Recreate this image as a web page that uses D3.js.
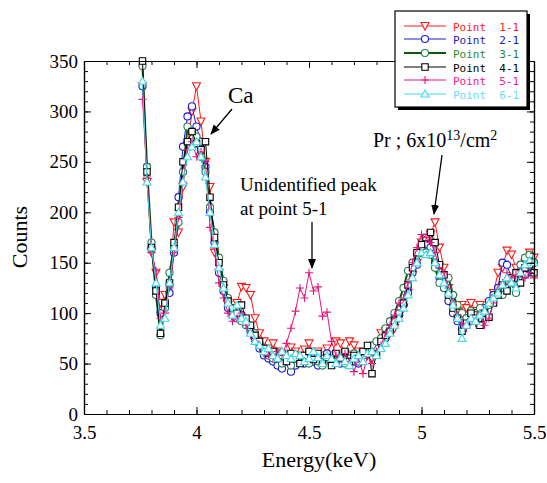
<!DOCTYPE html>
<html><head><meta charset="utf-8">
<script src="https://cdn.jsdelivr.net/npm/d3@7"></script>
<style>
html,body{margin:0;padding:0;background:#fff;}
svg{display:block;}
</style></head>
<body>
<svg id="chart" width="547" height="483"></svg>
<script>
const energies = [3.76,3.78,3.80,3.82,3.84,3.86,3.88,3.90,3.92,3.94,3.96,3.98,4.00,4.02,4.04,4.06,4.08,4.10,4.12,4.14,4.16,4.18,4.20,4.22,4.24,4.26,4.28,4.30,4.32,4.34,4.36,4.38,4.40,4.42,4.44,4.46,4.48,4.50,4.52,4.54,4.56,4.58,4.60,4.62,4.64,4.66,4.68,4.70,4.72,4.74,4.76,4.78,4.80,4.82,4.84,4.86,4.88,4.90,4.92,4.94,4.96,4.98,5.00,5.02,5.04,5.06,5.08,5.10,5.12,5.14,5.16,5.18,5.20,5.22,5.24,5.26,5.28,5.30,5.32,5.34,5.36,5.38,5.40,5.42,5.44,5.46,5.48,5.50];

const point11 = [325,230,160,140,110,118,125,190,180,225,265,300,325,290,250,225,160,140,125,108,102,110,126,125,118,95,80,72,65,70,62,60,58,66,62,58,64,70,60,62,58,65,58,72,70,60,72,68,62,60,58,55,62,80,82,80,85,95,105,120,138,150,170,165,178,190,165,145,125,115,100,108,105,110,102,108,95,110,120,140,145,162,158,145,140,150,160,155];
const point21 = [325,245,165,125,100,110,120,160,215,265,295,305,285,270,245,200,170,140,122,105,100,95,98,90,82,75,65,58,55,52,48,45,52,42,48,55,50,58,52,48,55,60,52,58,50,55,58,52,50,58,60,62,65,70,75,85,95,98,108,120,140,148,160,168,165,150,135,125,112,100,92,85,95,92,100,95,105,112,118,125,150,148,135,128,140,138,145,150];
const point31 = [345,245,170,118,78,105,140,165,190,240,285,280,275,255,240,205,180,155,132,115,102,95,92,88,85,80,70,62,58,55,60,50,55,48,58,52,55,50,58,52,48,55,50,52,58,50,55,60,52,58,62,68,72,75,85,92,100,112,125,142,150,158,165,160,158,145,130,125,135,118,108,100,95,102,98,105,100,108,115,120,118,125,130,120,148,155,158,150];
const point41 = [350,240,165,122,80,110,130,170,205,250,270,280,268,262,270,215,175,150,128,112,105,100,108,95,88,78,72,65,60,62,55,58,52,60,55,50,58,62,54,60,52,56,48,60,55,62,52,58,55,62,68,40,60,72,78,82,92,100,110,128,145,160,168,175,180,170,148,138,118,105,95,82,90,100,95,88,100,96,110,118,128,122,135,140,130,145,148,140];
const point51 = [312,235,160,142,95,100,125,160,195,230,262,270,255,260,250,185,165,130,115,100,92,95,100,88,78,72,65,60,58,55,62,58,70,85,102,125,115,140,122,126,97,101,72,58,55,60,52,42,55,40,58,50,62,68,80,88,98,110,115,130,150,165,178,175,170,160,145,140,125,110,98,90,85,95,90,100,88,95,110,125,130,140,135,138,142,135,140,135];
const point61 = [330,230,165,130,88,95,130,165,200,230,255,265,270,255,235,200,168,145,125,110,98,108,95,92,80,72,68,62,65,58,55,62,58,55,60,58,52,55,62,56,50,58,55,50,56,52,48,55,58,52,60,62,58,65,70,80,88,95,105,118,135,150,160,158,160,150,138,130,120,108,95,75,88,95,92,98,102,110,115,120,128,135,130,125,140,148,152,150];

const seriesNames = ["Point  1-1","Point  2-1","Point  3-1","Point  4-1","Point  5-1","Point  6-1"];
const xTickValues = [3.5,4,4.5,5,5.5];
const xTickLabels = ["3.5","4","4.5","5","5.5"];
const yTickValues = [0,50,100,150,200,250,300,350];

const seriesData = [point11,point21,point31,point41,point51,point61];
const styles = [
  {line:"#ff1a1a", marker:"tri-down", stroke:"#ff1a1a", text:"#ff2020", lw:1},
  {line:"#1a1adf", marker:"circle", stroke:"#1a1adf", text:"#1a1ac8", lw:1},
  {line:"#0a5a0a", marker:"circle", stroke:"#2e7d4f", text:"#1f8a2a", lw:2},
  {line:"#000000", marker:"square", stroke:"#000000", text:"#000000", lw:1},
  {line:"#e8157d", marker:"plus", stroke:"#e8157d", text:"#f0208a", lw:1},
  {line:"#3fd8e8", marker:"tri-up", stroke:"#3fd8e8", text:"#6adcf0", lw:1}
];

const svg = d3.select("#chart");
const x = d3.scaleLinear().domain([3.5,5.5]).range([84,534]);
const y = d3.scaleLinear().domain([0,350]).range([414,61]);

function markerPath(type){
  switch(type){
    case "tri-down": return "M-4,-3.5 L4,-3.5 L0,4 Z";
    case "tri-up": return "M-4,3 L4,3 L0,-4 Z";
    case "circle": return d3.symbol(d3.symbolCircle, 40)();
    case "square": return "M-3.2,-3.2 H3.2 V3.2 H-3.2 Z";
    case "plus": return "M-4,0 H4 M0,-4 V4";
  }
}

const line = d3.line().x((d,i)=>x(energies[i])).y(d=>y(d));
const plot = svg.append("g");
seriesData.forEach((vals,si)=>{
  const st = styles[si];
  const g = plot.append("g");
  g.append("path").datum(vals).attr("d",line).attr("fill","none")
    .attr("stroke",st.line).attr("stroke-width",st.lw);
  g.selectAll("path.m").data(vals).join("path").attr("class","m")
    .attr("transform",(d,i)=>`translate(${x(energies[i])},${y(d)})`)
    .attr("d",markerPath(st.marker))
    .attr("fill",st.marker==="plus"?"none":"#fff")
    .attr("stroke",st.stroke).attr("stroke-width",1.1);
});

// axes
const font = "'Liberation Serif','Times New Roman',serif";
const xMinor = d3.range(35,56).map(v=>v/10);
const yMinor = d3.range(0,351,10);
function styleAxis(g){ g.attr("font-family",font);
  g.select(".domain").attr("stroke","#000").attr("stroke-width",1.2);
  g.selectAll(".tick line").attr("stroke","#000");
  g.selectAll("text").attr("font-family",font).attr("font-size",19).attr("fill","#000"); }
svg.append("g").attr("transform","translate(0,414)")
  .call(d3.axisBottom(x).tickValues(xMinor).tickSize(-4).tickFormat("").tickSizeOuter(0)).call(styleAxis);
svg.append("g").attr("transform","translate(0,414)")
  .call(d3.axisBottom(x).tickValues(xTickValues).tickSize(-7).tickPadding(12).tickFormat((d,i)=>xTickLabels[i]).tickSizeOuter(0)).call(styleAxis);
svg.append("g").attr("transform","translate(0,61)")
  .call(d3.axisTop(x).tickValues(xMinor).tickSize(-4).tickFormat("").tickSizeOuter(0)).call(styleAxis);
svg.append("g").attr("transform","translate(0,61)")
  .call(d3.axisTop(x).tickValues(xTickValues).tickSize(-7).tickFormat("").tickSizeOuter(0)).call(styleAxis);
svg.append("g").attr("transform","translate(84,0)")
  .call(d3.axisLeft(y).tickValues(yMinor).tickSize(-4).tickFormat("").tickSizeOuter(0)).call(styleAxis);
svg.append("g").attr("transform","translate(84,0)")
  .call(d3.axisLeft(y).tickValues(yTickValues).tickSize(-7).tickPadding(6).tickFormat(d3.format("d")).tickSizeOuter(0)).call(styleAxis);
svg.append("g").attr("transform","translate(534,0)")
  .call(d3.axisRight(y).tickValues(yMinor).tickSize(-4).tickFormat("").tickSizeOuter(0)).call(styleAxis);
svg.append("g").attr("transform","translate(534,0)")
  .call(d3.axisRight(y).tickValues(yTickValues).tickSize(-7).tickFormat("").tickSizeOuter(0)).call(styleAxis);

// axis titles
svg.append("text").attr("x",319).attr("y",467).attr("text-anchor","middle")
  .attr("font-family",font).attr("font-size",22).text("Energy(keV)");
svg.append("text").attr("transform","translate(27,237) rotate(-90)").attr("text-anchor","middle")
  .attr("font-family",font).attr("font-size",22).text("Counts");

// annotations
svg.append("defs").append("marker").attr("id","ah").attr("viewBox","0 0 10 10")
  .attr("refX",9).attr("refY",5).attr("markerWidth",10).attr("markerHeight",10)
  .attr("markerUnits","userSpaceOnUse").attr("orient","auto")
  .append("path").attr("d","M0,1 L10,5 L0,9 Z").attr("fill","#000");
function arrow(x1,y1,x2,y2){ svg.append("line").attr("x1",x1).attr("y1",y1).attr("x2",x2).attr("y2",y2)
  .attr("stroke","#000").attr("stroke-width",1.3).attr("marker-end","url(#ah)"); }
svg.append("text").attr("x",228).attr("y",103).attr("font-family",font).attr("font-size",23).text("Ca");
arrow(232,109,211,134);
svg.append("text").attr("x",240).attr("y",191).attr("font-family",font).attr("font-size",19).text("Unidentified peak");
svg.append("text").attr("x",240).attr("y",215).attr("font-family",font).attr("font-size",19).text("at point 5-1");
arrow(312,222,312,268);
const pr = svg.append("text").attr("x",373).attr("y",147).attr("font-family",font).attr("font-size",20);
pr.append("tspan").text("Pr ; 6x10");
pr.append("tspan").attr("dy",-7).attr("font-size",14).text("13");
pr.append("tspan").attr("dy",7).text("/cm");
pr.append("tspan").attr("dy",-7).attr("font-size",14).text("2");
arrow(442,155,434,214);

// legend
const lg = svg.append("g");
lg.append("rect").attr("x",398).attr("y",14).attr("width",132).attr("height",96).attr("fill","#000");
lg.append("rect").attr("x",395).attr("y",11).attr("width",132).attr("height",96)
  .attr("fill","#fff").attr("stroke","#000").attr("stroke-width",1.2);
const rowY = [26,39,53,67,80,94];
seriesNames.forEach((name,i)=>{
  const st = styles[i];
  lg.append("line").attr("x1",404).attr("x2",446).attr("y1",rowY[i]).attr("y2",rowY[i])
    .attr("stroke",st.line).attr("stroke-width",st.lw);
  lg.append("path").attr("transform",`translate(425,${rowY[i]})`).attr("d",markerPath(st.marker))
    .attr("fill",st.marker==="plus"?"none":"#fff").attr("stroke",st.stroke).attr("stroke-width",1.1);
  lg.append("text").attr("x",453).attr("y",rowY[i]+4.5).attr("font-family","'DejaVu Sans Mono',monospace")
    .attr("font-size",11).attr("fill",st.text).attr("xml:space","preserve").style("white-space","pre").text(name);
});
</script>
</body></html>
